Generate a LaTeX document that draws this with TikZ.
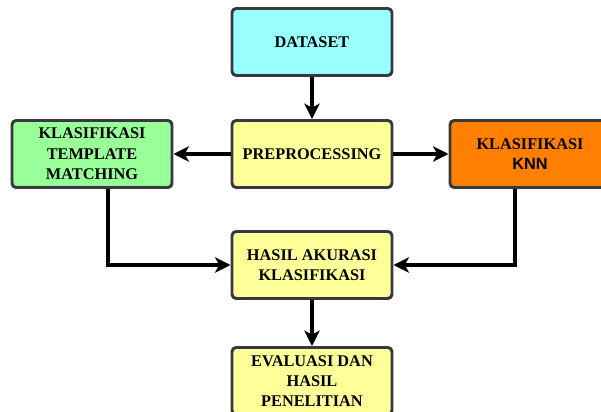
\documentclass[tikz,border=0pt]{standalone}
\usepackage{fontspec}
\setmainfont{Liberation Serif}
\newfontfamily\knnfont{Liberation Sans}
\usetikzlibrary{arrows.meta}
\definecolor{boxline}{HTML}{36393D}
\definecolor{cyanbox}{HTML}{99FFFF}
\definecolor{yellowbox}{HTML}{FFFF99}
\definecolor{greenbox}{HTML}{99FF99}
\definecolor{orangebox}{HTML}{FF8000}

\begin{document}
\begin{tikzpicture}[x=0.025cm, y=-0.025cm]
	\useasboundingbox (0,0) rectangle (601,412);
	\begin{scope}[every node/.style = {rectangle, rounded corners=3pt, draw=boxline, line width=2.1pt,
		minimum width=4cm, minimum height=1.675cm, align=center,
		font=\fontsize{11.6}{14.5}\selectfont\bfseries}]
		\node[fill=cyanbox] (D) at (312,42) {DATASET};
		\node[fill=yellowbox] (P) at (312,154) {PREPROCESSING};
		\node[fill=greenbox] (T) at (92,154) {KLASIFIKASI\\TEMPLATE\\MATCHING};
		\node[fill=orangebox] (K) at (530,154) {KLASIFIKASI\\{\knnfont KNN}};
		\node[fill=yellowbox] (H) at (312,265) {HASIL AKURASI\\KLASIFIKASI};
		\node[fill=yellowbox] (E) at (312,381) {EVALUASI DAN\\HASIL\\PENELITIAN};
	\end{scope}
	\begin{scope}[>={Stealth[black, length=11pt, width=11pt, inset=3pt]},
			every edge/.style={draw=black, line width=2.2pt}]
		\path [->] (D) edge (P);
		\path [->] (P) edge (T);
		\path [->] (P) edge (K);
		\path [->] (H) edge (E);
		\path [->] ([xshift=0.4cm]T.south) edge[to path={|- (\tikztotarget)}] (H.west);
		\path [->] ([xshift=-0.375cm]K.south) edge[to path={|- (\tikztotarget)}] (H.east);
	\end{scope}
\end{tikzpicture}
\end{document}
